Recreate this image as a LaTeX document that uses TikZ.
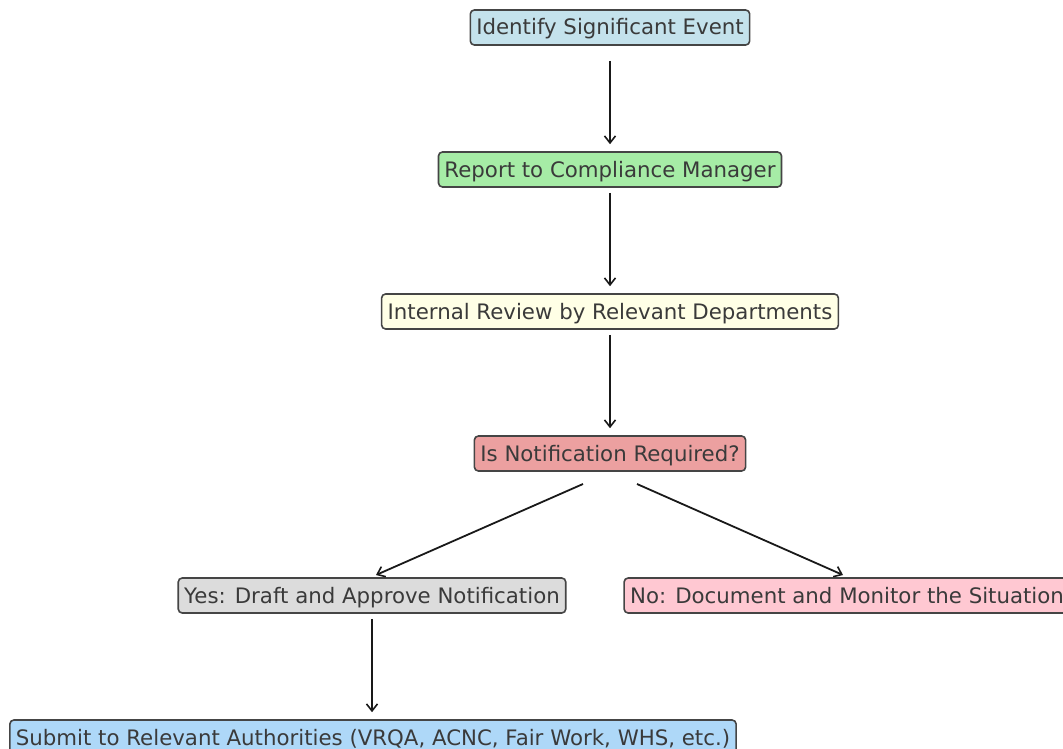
\documentclass[tikz,border=0pt]{standalone}
\usepackage{fontspec}
\setmainfont{DejaVu Sans}
\usetikzlibrary{arrows.meta}
\definecolor{txt}{HTML}{3A3A3A}
\definecolor{edge}{HTML}{454545}
\definecolor{cA}{HTML}{C4E2EC}
\definecolor{cB}{HTML}{A6ECA6}
\definecolor{cC}{HTML}{FFFFE6}
\definecolor{cD}{HTML}{ECA0A0}
\definecolor{cE}{HTML}{DCDCDC}
\definecolor{cF}{HTML}{FFC8D2}
\definecolor{cG}{HTML}{AED8F8}
\tikzset{
  box/.style={draw=edge, line width=1.6pt, rounded corners=4pt, text=txt,
    font=\fontsize{21.3pt}{24pt}\selectfont, text height=18pt, text depth=3pt,
    inner xsep=6pt, inner ysep=7pt},
  conn/.style={-{Straight Barb[length=7pt,width=11pt,line width=1.6pt]}, line width=1.8pt, black!90, shorten <=5pt, shorten >=7pt}
}
\begin{document}
\begin{tikzpicture}[x=1pt,y=-1pt]
\useasboundingbox (0,0) rectangle (1063,749);
\node[box, fill=cA] (n1) at (610,27.5) {Identify Significant Event};
\node[box, fill=cB] (n2) at (610,169.5) {Report to Compliance Manager};
\node[box, fill=cC] (n3) at (610,311.5) {Internal Review by Relevant Departments};
\node[box, fill=cD] (n4) at (610,453.5) {Is Notification Required?};
\node[box, fill=cE] (n5) at (372,595.5) {Yes: Draft and Approve Notification};
\node[box, fill=cF] (n6) at (847,595.5) {No: Document and Monitor the Situation};
\node[box, fill=cG] (n7) at (373,737.5) {Submit to Relevant Authorities (VRQA, ACNC, Fair Work, WHS, etc.)};
\coordinate (a1) at (583,484);
\coordinate (a2) at (637,484);
\draw[conn, shorten <=15pt] (n1) -- (n2);
\draw[conn] (n2) -- (n3);
\draw[conn] (n3) -- (n4);
\draw[conn, shorten <=0pt, shorten >=0pt] (a1) -- (376,575);
\draw[conn, shorten <=0pt, shorten >=0pt] (a2) -- (843,575);
\draw[conn] (n5.south) -- (n5.south |- n7.north);
\end{tikzpicture}
\end{document}
